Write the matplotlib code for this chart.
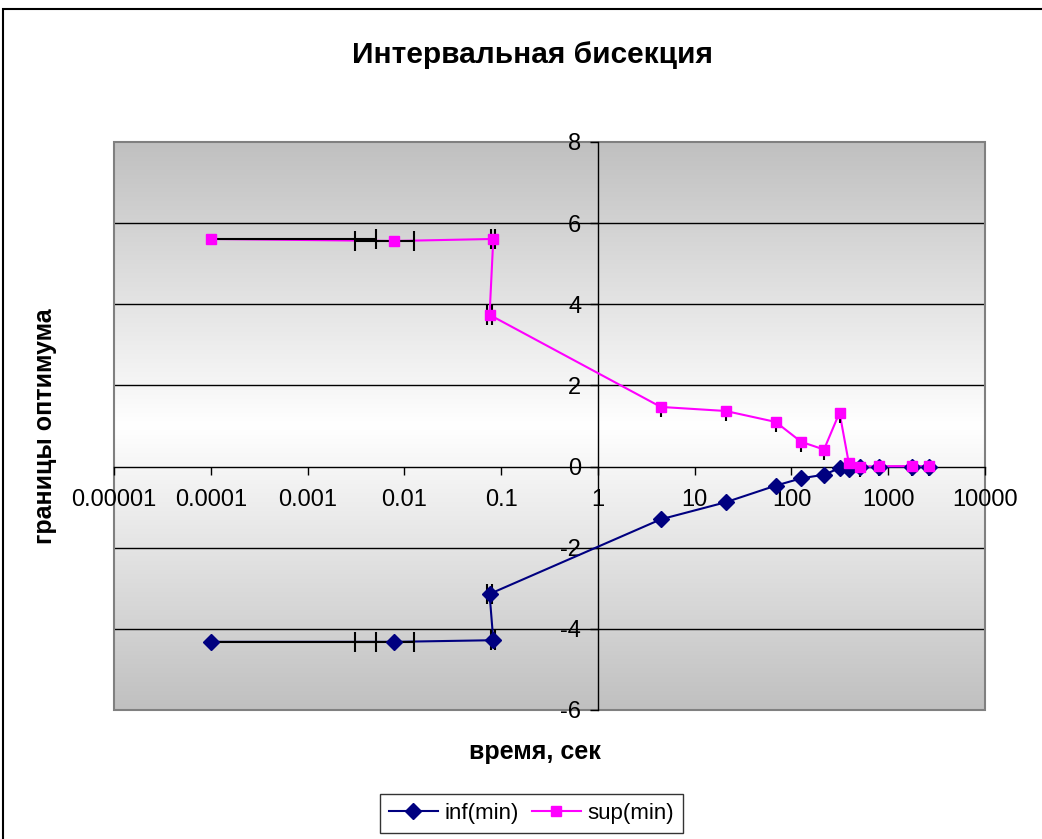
import numpy as np
import matplotlib
matplotlib.use("Agg")
import matplotlib.pyplot as plt
from matplotlib.colors import LinearSegmentedColormap
from matplotlib.patches import Rectangle
from matplotlib.ticker import FixedLocator, FixedFormatter, NullLocator

plt.rcParams['font.family'] = ['Liberation Sans', 'DejaVu Sans']
plt.rcParams['axes.unicode_minus'] = False

# measurement data
time_s = [0.0001, 0.0079, 0.083, 0.076, 4.47, 20.9, 68.7, 126, 217, 314, 392, 514, 800, 1754, 2624]
inf_min = [-4.32, -4.32, -4.28, -3.14, -1.30, -0.88, -0.47, -0.29, -0.20, -0.04, -0.06, -0.02, -0.01, 0.0, 0.0]
sup_min = [5.61, 5.56, 5.61, 3.74, 1.47, 1.37, 1.10, 0.61, 0.42, 1.33, 0.08, 0.0, 0.01, 0.01, 0.01]
time_err = [0.005, 0.0048, 0.004, 0.004, 0, 0, 0, 0, 0, 0, 0, 0, 0, 0, 0]
sup_err_low = [0, 0, 0, 0, 0.25, 0.25, 0.25, 0.25, 0.25, 0.25, 0.25, 0.25, 0.25, 0.25, 0.25]

x_ticks = [1e-5, 1e-4, 1e-3, 1e-2, 1e-1, 1, 10, 100, 1000, 10000]
x_labels = ['0.00001', '0.0001', '0.001', '0.01', '0.1', '1', '10', '100', '1000', '10000']
y_ticks = [-6, -4, -2, 0, 2, 4, 6, 8]

t = np.array(time_s)
terr = np.array(time_err)
mask = terr > 0
# on a log axis the lower part of an error bar cannot reach below zero
low_ok = (t - terr > 0) & mask
terr_low = np.where(low_ok, terr, 0.0)

fig = plt.figure(figsize=(10.42, 8.39), dpi=100)
ax = fig.add_axes([114 / 1042, 1 - 710 / 839, (985 - 114) / 1042, (710 - 142) / 839])
ax.set_xscale('log')
ax.set_xlim(1e-5, 1e4)
ax.set_ylim(-6, 8)
ax.set_facecolor('none')

# vertical gradient: grey at the edges, white in the middle
cmap = LinearSegmentedColormap.from_list('band', ['#c0c0c0', '#ffffff', '#c0c0c0'])
grad = np.linspace(0, 1, 256).reshape(-1, 1)
ax.imshow(grad, cmap=cmap, extent=[0, 1, 0, 1], transform=ax.transAxes,
          aspect='auto', zorder=0, interpolation='bilinear')

for yv in y_ticks:
    if -6 < yv < 8 and yv != 0:
        ax.axhline(yv, color='black', lw=1.0, zorder=1)

ax.add_patch(Rectangle((0, 0), 1, 1, transform=ax.transAxes, fill=False,
                       edgecolor='#808080', lw=1.5, zorder=1, clip_on=False))

for s in ['top', 'right']:
    ax.spines[s].set_visible(False)
ax.spines['left'].set_position(('data', 1))
ax.spines['bottom'].set_position(('data', 0))
ax.spines['left'].set_linewidth(1.0)
ax.spines['bottom'].set_linewidth(1.0)
ax.spines['left'].set_zorder(1.5)
ax.spines['bottom'].set_zorder(1.5)

ax.xaxis.set_major_locator(FixedLocator(x_ticks))
ax.xaxis.set_major_formatter(FixedFormatter(x_labels))
ax.xaxis.set_minor_locator(NullLocator())
ax.set_yticks(y_ticks)
ax.tick_params(axis='both', direction='out', length=6, width=1, labelsize=17, colors='black')
ax.tick_params(axis='x', pad=10)
ax.tick_params(axis='y', pad=6)

navy = '#000080'
pink = '#ff00ff'

# connecting lines
ax.plot(t, inf_min, color=navy, lw=1.5, zorder=2)
ax.plot(t, sup_min, color=pink, lw=1.5, zorder=2)

# horizontal error bars on time (no part below zero on the log axis)
for vals in (inf_min, sup_min):
    v = np.array(vals)
    ax.hlines(v[mask], (t - terr_low)[mask], (t + terr)[mask], colors='black', lw=1.5, zorder=3)
    ax.plot((t + terr)[mask], v[mask], ls='none', marker='|', ms=14, mew=1.5, color='black', zorder=3)
    ax.plot((t - terr)[low_ok], v[low_ok], ls='none', marker='|', ms=14, mew=1.5, color='black', zorder=3)

# lower error bars on the upper bound
se = np.array(sup_err_low)
m2 = se > 0
ax.errorbar(t[m2], np.array(sup_min)[m2], yerr=[se[m2], np.zeros(m2.sum())], fmt='none',
            ecolor='black', elinewidth=1.5, capsize=0, zorder=3)

ax.plot(t, inf_min, ls='none', marker='D', ms=8, color=navy, zorder=4)
ax.plot(t, sup_min, ls='none', marker='s', ms=7.5, color=pink, zorder=4)

# legend
h1, = ax.plot([], [], color=navy, lw=1.5, marker='D', ms=8, label='inf(min)')
h2, = ax.plot([], [], color=pink, lw=1.5, marker='s', ms=7.5, label='sup(min)')
leg = fig.legend(handles=[h1, h2], loc='center', bbox_to_anchor=(531.5 / 1042, 1 - 813.5 / 839),
                 ncol=2, fontsize=16, frameon=True, fancybox=False, handlelength=2.2,
                 columnspacing=0.6, handletextpad=0.3, borderpad=0.4)
leg.get_frame().set_edgecolor('black')
leg.get_frame().set_linewidth(1.0)

fig.text(533 / 1042, 1 - 55 / 839, 'Интервальная бисекция', ha='center', va='center',
         fontsize=21.5, fontweight='bold')
fig.text(535 / 1042, 1 - 752 / 839, 'время, сек', ha='center', va='center',
         fontsize=18, fontweight='bold')
fig.text(45 / 1042, 1 - 426 / 839, 'границы оптимума', ha='center', va='center',
         rotation=90, fontsize=18, fontweight='bold')

# outer chart frame
fig.add_artist(Rectangle((3 / 1042, -0.1), 1.2, 1.1 - 9 / 839, transform=fig.transFigure,
                         fill=False, edgecolor='black', lw=1.5))

fig.savefig('out.png', dpi=100, facecolor='white')
